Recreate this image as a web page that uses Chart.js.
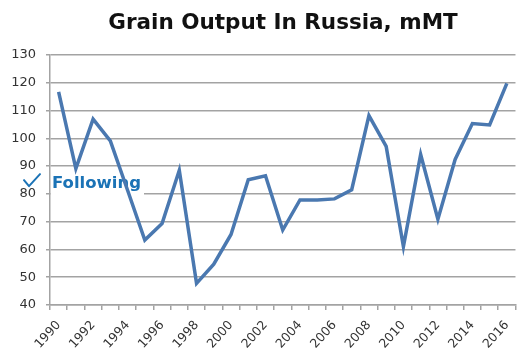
<!DOCTYPE html>
<html>
<head>
<meta charset="utf-8">
<script src="https://cdn.jsdelivr.net/npm/chart.js@4/dist/chart.umd.min.js"></script>
<style>
  html, body { margin: 0; padding: 0; background: #fff; overflow: hidden; }
  #wrap { position: relative; width: 526px; height: 349px; }
  #title {
    position: absolute; left: 0; width: 566px; top: 9px; text-align: center;
    font: bold 21.5px "DejaVu Sans", sans-serif; color: #111;
  }
</style>
</head>
<body>
<div id="wrap">
  <canvas id="c" width="526" height="349"></canvas>
  <div id="title">Grain Output In Russia, mMT</div>
</div>
<script>
// Russian grain harvest by year, million metric tonnes
const years = [1990, 1991, 1992, 1993, 1994, 1995, 1996, 1997, 1998, 1999,
               2000, 2001, 2002, 2003, 2004, 2005, 2006, 2007, 2008, 2009,
               2010, 2011, 2012, 2013, 2014, 2015, 2016];
const grainOutput = [116.7, 89.1, 106.9, 99.1, 81.3, 63.4, 69.3, 88.5, 47.8, 54.7,
                     65.4, 85.1, 86.5, 67.0, 77.8, 77.8, 78.2, 81.5, 108.2, 97.1,
                     61.0, 94.2, 70.9, 92.4, 105.3, 104.8, 119.8];
const yTicks = { min: 40, max: 130, step: 10 };

const gridGray = '#a3a3a3';
const followBlue = '#1b73b6';

// "Following" badge: white patch, check mark and text, painted under the data line
const followBadge = {
  id: 'followBadge',
  beforeDatasetsDraw(chart) {
    const ctx = chart.ctx;
    const y = chart.scales.y.getPixelForValue(83.5);
    const left = chart.chartArea.left;
    ctx.save();
    ctx.fillStyle = '#fff';
    ctx.fillRect(left + 1, y - 12, 93, 24);
    ctx.fillStyle = followBlue;
    ctx.font = 'bold 16.5px "DejaVu Sans", sans-serif';
    ctx.textBaseline = 'middle';
    ctx.textAlign = 'left';
    ctx.fillText('Following', left + 2, y);
    // check mark
    ctx.strokeStyle = followBlue;
    ctx.lineWidth = 2;
    ctx.lineCap = 'round';
    ctx.lineJoin = 'round';
    ctx.beginPath();
    ctx.moveTo(left - 26, y - 4);
    ctx.lineTo(left - 21, y + 2);
    ctx.lineTo(left - 10, y - 10);
    ctx.stroke();
    ctx.restore();
  }
};

new Chart(document.getElementById('c'), {
  type: 'line',
  data: {
    labels: years.map(String),
    datasets: [{
      data: grainOutput,
      borderColor: '#4a78b0',
      borderWidth: 3.5,
      pointRadius: 0,
      tension: 0,
      fill: false
    }]
  },
  options: {
    responsive: false,
    animation: false,
    layout: { padding: { top: 55, left: 0, right: 0, bottom: 0 } },
    plugins: { legend: { display: false }, title: { display: false }, tooltip: { enabled: false } },
    scales: {
      x: {
        offset: true,
        grid: { offset: true, drawOnChartArea: false, color: gridGray, tickLength: 5, lineWidth: 1.5 },
        border: { color: gridGray, width: 1.5 },
        ticks: {
          autoSkip: false, minRotation: 48, maxRotation: 48, padding: 8,
          color: '#333', font: { family: 'DejaVu Sans', size: 12.5 },
          callback: function (v, i) { return years[i] % 2 === 0 ? String(years[i]) : ''; }
        },
        afterFit: function (s) { s.height = 44; }
      },
      y: {
        min: yTicks.min, max: yTicks.max,
        grid: { color: gridGray, lineWidth: 1.5, tickLength: 4 },
        border: { color: gridGray, width: 1.5 },
        ticks: { stepSize: yTicks.step, padding: 10, color: '#333', font: { family: 'DejaVu Sans', size: 13 } },
        afterFit: function (s) { s.width = 50; }
      }
    }
  },
  plugins: [followBadge]
});
</script>
</body>
</html>
